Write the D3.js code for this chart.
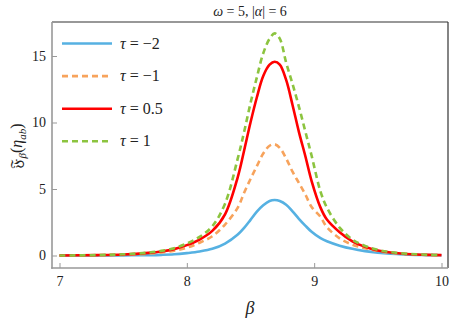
<!DOCTYPE html>
<html><head><meta charset="utf-8">
<script src="https://cdn.jsdelivr.net/npm/d3@7"></script>
<style>
body{margin:0;background:#fff;}
svg{display:block;}
text{font-family:"Liberation Serif","Times New Roman","DejaVu Serif",serif;}
</style></head>
<body><svg id="c" width="450" height="324"></svg>
<script>
const beta = [7.0,7.3,7.5,7.7,7.8,7.9,8.0,8.1,8.2,8.3,8.4,8.45,8.5,8.55,8.6,8.65,8.69,8.73,8.78,8.83,8.88,8.93,8.98,9.05,9.1,9.2,9.3,9.4,9.5,9.6,9.7,9.8,9.9,10.0];
const tauM2 = [0.0,0.005,0.01,0.03,0.05,0.09,0.18,0.3,0.5,0.9,1.58,2.08,2.68,3.3,3.78,4.1,4.17,4.1,3.82,3.32,2.76,2.25,1.78,1.3,1.07,0.74,0.5,0.33,0.21,0.13,0.08,0.05,0.03,0.02];
const tauM1 = [0.0,0.02,0.05,0.14,0.22,0.36,0.58,0.96,1.45,2.33,3.6,4.72,5.75,6.72,7.67,8.25,8.36,8.1,7.3,6.3,5.46,4.6,3.65,2.9,2.13,1.29,0.82,0.55,0.34,0.2,0.12,0.07,0.04,0.02];
const tauP05 = [0.0,0.03,0.08,0.2,0.3,0.48,0.78,1.2,1.85,3.1,5.9,7.9,10.0,11.9,13.5,14.35,14.57,14.35,13.2,11.32,9.3,7.5,5.6,3.6,2.7,1.75,1.07,0.65,0.38,0.22,0.13,0.08,0.05,0.03];
const tauP1 = [0.0,0.03,0.09,0.22,0.35,0.55,0.9,1.4,2.2,3.9,7.3,9.3,11.45,13.4,15.2,16.3,16.7,16.3,14.5,12.9,11.2,9.35,7.5,4.8,3.6,2.1,1.2,0.72,0.42,0.25,0.15,0.09,0.05,0.03];
const labels = ["\u03c4 = \u22122","\u03c4 = \u22121","\u03c4 = 0.5","\u03c4 = 1"];
const colors = ["#56b1e2","#f7a35c","#ff0000","#8cc43f"];
const dashes = [null,"6,4",null,"6,4"];
const xTicks = [7,8,9,10];
const yTicks = [0,5,10,15];
const series = [tauM2,tauM1,tauP05,tauP1];

const SERIF = "'Liberation Serif','Times New Roman','DejaVu Serif',serif";
const svg = d3.select("#c");
const L=52,R=448,T=22,B=268;
const x = d3.scaleLinear().domain([7,10]).range([59.5,441.5]);
const y = d3.scaleLinear().domain([0,15]).range([255.5,56]);

svg.append("line").attr("x1",L).attr("x2",R).attr("y1",T).attr("y2",T).attr("stroke","#333").attr("stroke-width",1.2);
svg.append("line").attr("x1",R).attr("x2",R).attr("y1",T).attr("y2",B).attr("stroke","#333").attr("stroke-width",1.2);

const line = d3.line().x((d,i)=>x(beta[i])).y(d=>y(d)).curve(d3.curveCatmullRom.alpha(0.5));
series.forEach((s,k)=>{
  svg.append("path").datum(s).attr("d",line).attr("fill","none")
    .attr("stroke",colors[k]).attr("stroke-width",2.6)
    .attr("stroke-dasharray",dashes[k]);
});

const gx = svg.append("g").attr("transform",`translate(0,${B})`)
  .call(d3.axisBottom(x).tickValues(xTicks).tickFormat(d3.format("d")).tickSize(-5).tickPadding(8));
const gy = svg.append("g").attr("transform",`translate(${L},0)`)
  .call(d3.axisLeft(y).tickValues(yTicks).tickFormat(d3.format("d")).tickSize(-5).tickPadding(6));
[gx,gy].forEach(g=>{
  g.attr("font-family",SERIF).attr("font-size",14);
  g.select(".domain").remove();
  g.selectAll(".tick line").attr("stroke","#999").attr("stroke-width",1);
  g.selectAll(".tick text").attr("fill","#222");
});
svg.append("line").attr("x1",L).attr("x2",L).attr("y1",T).attr("y2",B+0.8).attr("stroke","#999").attr("stroke-width",1.6);
svg.append("line").attr("x1",L-0.8).attr("x2",R).attr("y1",B).attr("y2",B).attr("stroke","#999").attr("stroke-width",1.6);

labels.forEach((t,k)=>{
  const yy = 43.5 + k*32.6;
  svg.append("line").attr("x1",62).attr("x2",112).attr("y1",yy).attr("y2",yy)
    .attr("stroke",colors[k]).attr("stroke-width",2.6).attr("stroke-dasharray",dashes[k]);
  const tx = svg.append("text").attr("x",120).attr("y",yy+5)
    .style("font-family",SERIF).style("font-size","16px").attr("fill","#222");
  const parts = t.split(" ");
  tx.append("tspan").style("font-style","italic").text(parts[0]);
  tx.append("tspan").text(" " + parts.slice(1).join(" "));
});

const tt = svg.append("text").attr("x",250).attr("y",16).attr("text-anchor","middle")
  .style("font-family",SERIF).style("font-size","14px").attr("fill","#222");
tt.append("tspan").style("font-style","italic").text("\u03c9");
tt.append("tspan").text(" = 5, |");
tt.append("tspan").style("font-style","italic").text("\u03b1");
tt.append("tspan").text("| = 6");

svg.append("text").attr("x",250).attr("y",314).attr("text-anchor","middle")
  .style("font-family",SERIF).style("font-size","18px").style("font-style","italic").attr("fill","#222").text("\u03b2");

const yl = svg.append("text").attr("transform","translate(22,146) rotate(-90)").attr("text-anchor","middle")
  .style("font-family",SERIF).style("font-size","16px").attr("fill","#222");
yl.append("tspan").style("font-family","'DejaVu Sans','Noto Sans',serif").text("\u{1D509}");
yl.append("tspan").attr("dy",4).style("font-size","11px").style("font-style","italic").text("\u03b2");
yl.append("tspan").attr("dy",-4).text("(");
yl.append("tspan").style("font-style","italic").text("\u03b7");
yl.append("tspan").attr("dy",4).style("font-size","11px").style("font-style","italic").text("ab");
yl.append("tspan").attr("dy",-4).text(")");
</script></body></html>
